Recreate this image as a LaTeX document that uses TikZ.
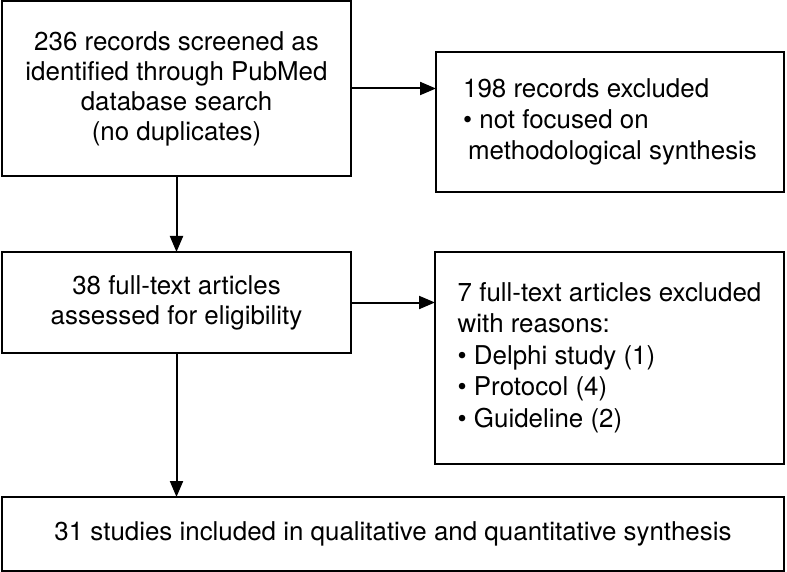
\documentclass[tikz,border=0pt]{standalone}
\usepackage{fontspec}
\setmainfont{TeX Gyre Heros}
\usetikzlibrary{arrows.meta}
\tikzset{
  box/.style={draw=black, line width=2pt, rectangle, inner sep=0pt, outer sep=0pt,
    align=center, font=\fontsize{25.9}{30}\selectfont},
  arr/.style={line width=2pt, -{Triangle[length=16pt,width=13pt]}},
}
\begin{document}
\begin{tikzpicture}[x=1pt,y=-1pt]
\useasboundingbox (0,0) rectangle (787,572);
\node[box, minimum width=349pt, minimum height=175pt] (b1) at (176.5,88.5)
  {236 records screened as\\identified through PubMed\\database search\\(no duplicates)};
\node[box, minimum width=348pt, minimum height=140pt,
  font=\fontsize{25.9}{30.5}\selectfont] (b2) at (610,122)
  {\begin{tabular}{@{}l@{}}198 records excluded\\[0.5pt]\textbullet\ not focused on\\[0.5pt]\hspace{5pt}methodological synthesis\end{tabular}};
\node[box, minimum width=349pt, minimum height=101pt] (b3) at (176.5,302.5)
  {38 full-text articles\\assessed for eligibility};
\node[box, minimum width=349pt, minimum height=212pt] (b4) at (609.5,358)
  {\begin{tabular}{@{}l@{}}7 full-text articles excluded\\[1.5pt]with reasons:\\[1.5pt]\textbullet\ Delphi study (1)\\[1.5pt]\textbullet\ Protocol (4)\\[1.5pt]\textbullet\ Guideline (2)\end{tabular}};
\node[box, minimum width=782pt, minimum height=74pt] (b5) at (393,534)
  {31 studies included in qualitative and quantitative synthesis};
\draw[arr] (b1.east) -- (b2.west |- b1.east);
\draw[arr] (b1.south) -- (b3.north);
\draw[arr] (b3.east) -- (b4.west |- b3.east);
\draw[arr] (b3.south) -- (b5.north -| b3.south);
\end{tikzpicture}
\end{document}
